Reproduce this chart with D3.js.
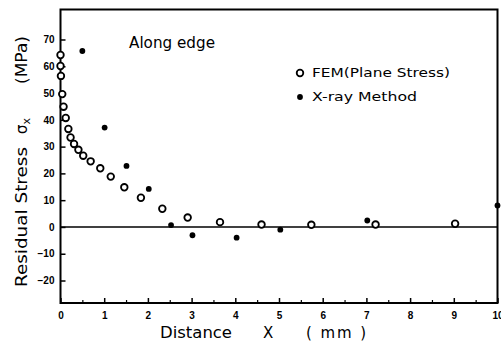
<!DOCTYPE html>
<html><head><meta charset="utf-8">
<script src="https://cdn.jsdelivr.net/npm/d3@7"></script>
<style>body{margin:0;background:#fff}svg{display:block}</style>
</head><body>
<svg id="c" width="501" height="344"></svg>
<script>
// FEM (Plane Stress) — open circles
const femX = [0.0, 0.0, 0.01, 0.04, 0.07, 0.12, 0.18, 0.23, 0.31, 0.41, 0.52, 0.69, 0.91, 1.15, 1.46, 1.84, 2.33, 2.91, 3.65, 4.60, 5.74, 7.21, 9.03];
const femY = [64.2, 60.1, 56.4, 49.6, 44.9, 40.7, 36.6, 33.4, 31.0, 28.8, 26.6, 24.5, 21.9, 18.8, 14.8, 10.9, 6.8, 3.5, 1.8, 0.9, 0.8, 0.9, 1.2];
// X-ray Method — filled dots
const xrayX = [0.50, 1.01, 1.51, 2.02, 2.53, 3.02, 4.03, 5.03, 7.02, 10.0];
const xrayY = [65.7, 37.1, 22.8, 14.2, 0.7, -3.1, -4.0, -1.0, 2.4, 8.0];
const xTicks = [0,1,2,3,4,5,6,7,8,9,10];
const xMinor = [0.5,1.5,2.5,3.5,4.5,5.5,6.5,7.5,8.5,9.5];
const yTicks = [-20,-10,0,10,20,30,40,50,60,70];

const svg = d3.select("#c");
const L = 60.5, R = 497.5, T = 9.5, B = 303;
const x = d3.scaleLinear().domain([0,10]).range([L,R]);
const y = d3.scaleLinear().domain([-28.4,81.2]).range([B,T]);
const font = "'Liberation Sans', Arial, sans-serif";
const tfont = "'DejaVu Sans', sans-serif";

// frame
svg.append("rect").attr("x",L).attr("y",T).attr("width",R-L).attr("height",B-T)
  .attr("fill","none").attr("stroke","#000").attr("stroke-width",2);

// zero line
svg.append("line").attr("x1",L).attr("x2",R).attr("y1",y(0)).attr("y2",y(0))
  .attr("stroke","#000").attr("stroke-width",1.6);

// x axis
const xa = svg.append("g").attr("transform",`translate(0,${B})`)
  .call(d3.axisBottom(x).tickValues(xTicks).tickSize(-5).tickPadding(9).tickFormat(d3.format("d")));
xa.select(".domain").remove();
xa.selectAll("line").attr("stroke","#000").attr("stroke-width",1.5);
xa.selectAll("text").attr("font-family",font).attr("font-size",10).attr("font-weight","bold").attr("fill","#000");
const xm = svg.append("g").attr("transform",`translate(0,${B})`)
  .call(d3.axisBottom(x).tickValues(xMinor).tickSize(-3).tickFormat(""));
xm.select(".domain").remove();
xm.selectAll("line").attr("stroke","#000").attr("stroke-width",1.2);

// y axis
const ya = svg.append("g").attr("transform",`translate(${L},0)`)
  .call(d3.axisLeft(y).tickValues(yTicks).tickSize(-5).tickPadding(6).tickFormat(d3.format("d")));
ya.select(".domain").remove();
ya.selectAll("line").attr("stroke","#000").attr("stroke-width",1.5);
ya.selectAll("text").attr("font-family",font).attr("font-size",10).attr("font-weight","bold").attr("fill","#000")
  .text(d => d < 0 ? "\u2212" + Math.abs(d) : d);

// points
const fem = femX.map((d,i)=>({x:d,y:femY[i]}));
const xray = xrayX.map((d,i)=>({x:d,y:xrayY[i]}));
svg.append("g").selectAll("circle").data(fem).join("circle")
  .attr("cx",d=>x(d.x)).attr("cy",d=>y(d.y)).attr("r",3.3)
  .attr("fill","#fff").attr("stroke","#000").attr("stroke-width",1.8);
svg.append("g").selectAll("circle").data(xray).join("circle")
  .attr("cx",d=>x(d.x)).attr("cy",d=>y(d.y)).attr("r",2.9).attr("fill","#000");

// annotation
svg.append("text").attr("x",129).attr("y",48).attr("font-family",tfont).attr("font-size",15)
  .attr("textLength",86).attr("lengthAdjust","spacingAndGlyphs").text("Along edge");

// legend
svg.append("circle").attr("cx",300).attr("cy",73).attr("r",3.3).attr("fill","#fff").attr("stroke","#000").attr("stroke-width",1.8);
svg.append("text").attr("x",312).attr("y",77).attr("font-family",tfont).attr("font-size",13)
  .attr("textLength",138).attr("lengthAdjust","spacingAndGlyphs").text("FEM(Plane Stress)");
svg.append("circle").attr("cx",300).attr("cy",97).attr("r",2.9).attr("fill","#000");
svg.append("text").attr("x",312).attr("y",101).attr("font-family",tfont).attr("font-size",13)
  .attr("textLength",105).attr("lengthAdjust","spacingAndGlyphs").text("X-ray Method");

// axis titles
const xt = svg.append("text").attr("y",338).attr("font-family",tfont).attr("font-size",15);
xt.append("tspan").attr("x",160).attr("textLength",72).attr("lengthAdjust","spacingAndGlyphs").text("Distance");
xt.append("tspan").attr("x",263).text("X");
xt.append("tspan").attr("x",306).attr("textLength",60).attr("lengthAdjust","spacing").text("( mm )");

const yt = svg.append("text").attr("transform","translate(27,0) rotate(-90)").attr("font-family",tfont).attr("font-size",15);
yt.append("tspan").attr("x",-287).attr("textLength",140).attr("lengthAdjust","spacingAndGlyphs").text("Residual Stress");
yt.append("tspan").attr("x",-134).text("\u03c3");
yt.append("tspan").attr("dy",3).attr("font-size",11).text("x");
yt.append("tspan").attr("x",-84).attr("dy",-3).attr("textLength",48).attr("lengthAdjust","spacingAndGlyphs").text("(MPa)");
</script>
</body></html>
